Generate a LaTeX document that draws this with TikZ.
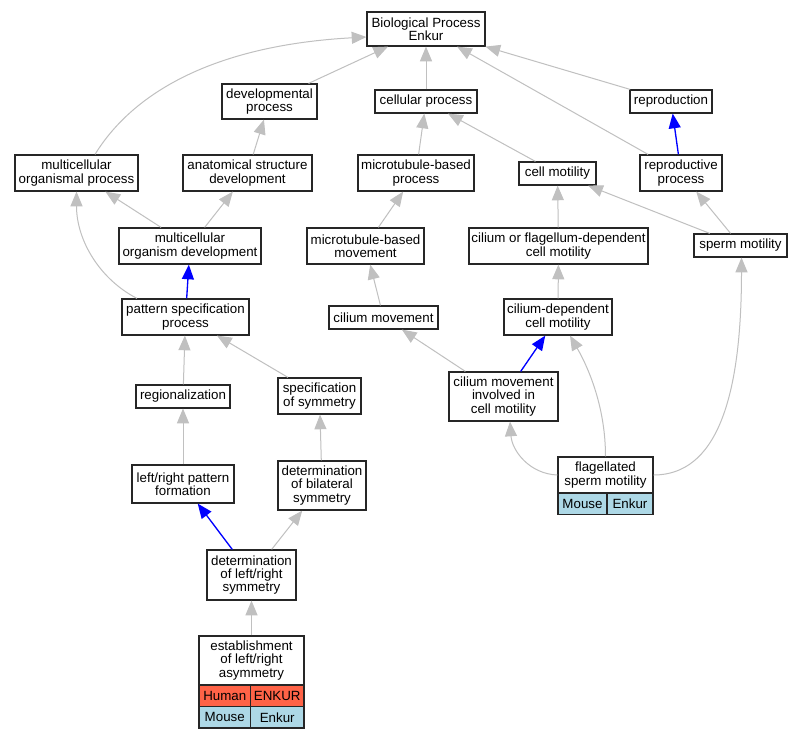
\documentclass[tikz,border=0pt]{standalone}
\usepackage{fontspec}
\setmainfont{Liberation Sans}
\usetikzlibrary{arrows.meta,calc}
\definecolor{edgegray}{HTML}{C0C0C0}
\definecolor{tomatored}{HTML}{FF6347}
\definecolor{lblue}{HTML}{ADD8E6}
\newdimen\pxu
\pxu=0.75pt
\tikzset{
  gobox/.style={draw=black!85, line width=0.9pt, rectangle, inner sep=0pt, align=center,
    font=\fontsize{10}{10}\selectfont},
  cellbox/.style={draw=black!85, line width=0.9pt, rectangle, inner sep=0pt,
    font=\fontsize{10}{10}\selectfont},
  gedge/.style={draw=edgegray, line width=0.75pt, -{Triangle[length=11pt,width=9pt]}},
  bedge/.style={draw=blue, line width=1pt, -{Triangle[length=11pt,width=9pt]}},
}
\newcommand{\gnode}[6]{\node[gobox, minimum width=#4*\pxu, minimum height=#5*\pxu] (#1) at (#2,#3) {#6};}
\begin{document}
\begin{tikzpicture}[x=0.75pt, y=-0.75pt]
\useasboundingbox (0,0) rectangle (803,739);
\fill[white] (0,0) rectangle (803,739);
% nodes
\gnode{bp}{426}{29}{118}{34}{Biological Process\\Enkur}
\gnode{dev}{269.5}{101.5}{95}{35}{developmental\\process}
\gnode{cell}{426}{101.5}{102}{23}{cellular process}
\gnode{repro}{671}{101.5}{82}{23}{reproduction}
\gnode{mop}{76.5}{173}{123}{36}{multicellular\\organismal process}
\gnode{asd}{247.5}{173}{129}{36}{anatomical structure\\development}
\gnode{mtbp}{416}{173}{116}{36}{microtubule-based\\process}
\gnode{cm}{557.5}{173.5}{77}{23}{cell motility}
\gnode{rp}{681}{173}{82}{36}{reproductive\\process}
\gnode{mod}{190}{246}{142}{36}{multicellular\\organism development}
\gnode{mtbm}{365.5}{246}{117}{36}{microtubule-based\\movement}
\gnode{cfd}{558.5}{246}{179}{36}{cilium or flagellum-dependent\\cell motility}
\gnode{sm}{740.5}{245.5}{93}{23}{sperm motility}
\gnode{psp}{185.5}{317}{127}{36}{pattern specification\\process}
\gnode{cmov}{383.5}{317.5}{109}{23}{cilium movement}
\gnode{cdcm}{558}{317}{108}{36}{cilium-dependent\\cell motility}
\gnode{reg}{183}{396.5}{94}{23}{regionalization}
\gnode{sos}{319.5}{396}{83}{36}{specification\\of symmetry}
\gnode{cmi}{503.5}{396.5}{109}{49}{cilium movement\\involved in\\cell motility}
\gnode{lrpf}{183}{484}{102}{38}{left/right pattern\\formation}
\gnode{dbs}{322}{485.5}{88}{49}{determination\\of bilateral\\symmetry}
\gnode{fsm}{605.5}{475}{95}{36}{flagellated\\sperm motility}
\gnode{dlrs}{251.5}{575}{89}{50}{determination\\of left/right\\symmetry}
\gnode{elra}{251.5}{660.5}{105}{49}{establishment\\of left/right\\asymmetry}
% table cells
\node[cellbox, fill=lblue, minimum width=49*\pxu, minimum height=21.5*\pxu] (fsmA) at (582.5,503.75) {Mouse};
\node[cellbox, fill=lblue, minimum width=46*\pxu, minimum height=21.5*\pxu] (fsmB) at (630,503.75) {Enkur};
\node[cellbox, fill=tomatored, minimum width=51.5*\pxu, minimum height=21.5*\pxu] (elraA) at (224.75,695.75) {Human};
\node[cellbox, fill=tomatored, minimum width=53.5*\pxu, minimum height=21.5*\pxu] (elraB) at (277.25,695.75) {ENKUR};
\node[cellbox, fill=lblue, minimum width=51.5*\pxu, minimum height=21.5*\pxu] (elraC) at (224.75,717.25) {Mouse};
\node[cellbox, fill=lblue, minimum width=53.5*\pxu, minimum height=21.5*\pxu] (elraD) at (277.25,717.25) {Enkur};
% gray edges
\draw[gedge] (dev) -- (bp);
\draw[gedge] (cell) -- (bp);
\draw[gedge] (repro) -- (bp);
\draw[gedge] (rp) -- (bp);
\draw[gedge] ($(mop.north)+(18.5,0)$) .. controls +(40,-65) and +(-147,8) .. ($(bp.west)+(0,8)$);
\draw[gedge] (asd) -- (dev);
\draw[gedge] (mtbp) -- (cell);
\draw[gedge] (cm) -- (cell);
\draw[gedge] (mod) -- (mop);
\draw[gedge] (mod) -- (asd);
\draw[gedge] (mtbm) -- (mtbp);
\draw[gedge] (cfd) -- (cm);
\draw[gedge] (sm) -- (cm);
\draw[gedge] (sm) -- (rp);
\draw[gedge] ($(psp.north)+(-48.5,0)$) .. controls +(-37,-19) and +(0,49) .. (mop.south);
\draw[gedge] (cmov) -- (mtbm);
\draw[gedge] (cdcm) -- (cfd);
\draw[gedge] (reg) -- (psp);
\draw[gedge] (sos) -- (psp);
\draw[gedge] (cmi) -- (cmov);
\draw[gedge] (fsm.north) .. controls +(0,-47) and +(20,35) .. ($(cdcm.south)+(12,0)$);
\draw[gedge] (fsm.west) .. controls +(-28,-1) and +(2,29) .. ($(cmi.south)+(6.5,0)$);
\draw[gedge] (fsm.east) .. controls +(62,0) and +(0,143) .. ($(sm.south)+(1,0)$);
\draw[gedge] (lrpf) -- (reg);
\draw[gedge] (dbs) -- (sos);
\draw[gedge] (dlrs) -- (dbs);
\draw[gedge] (elra) -- (dlrs);
% blue edges
\draw[bedge] (rp) -- (repro);
\draw[bedge] (psp) -- (mod);
\draw[bedge] (cmi) -- (cdcm);
\draw[bedge] (dlrs) -- (lrpf);
\end{tikzpicture}
\end{document}
